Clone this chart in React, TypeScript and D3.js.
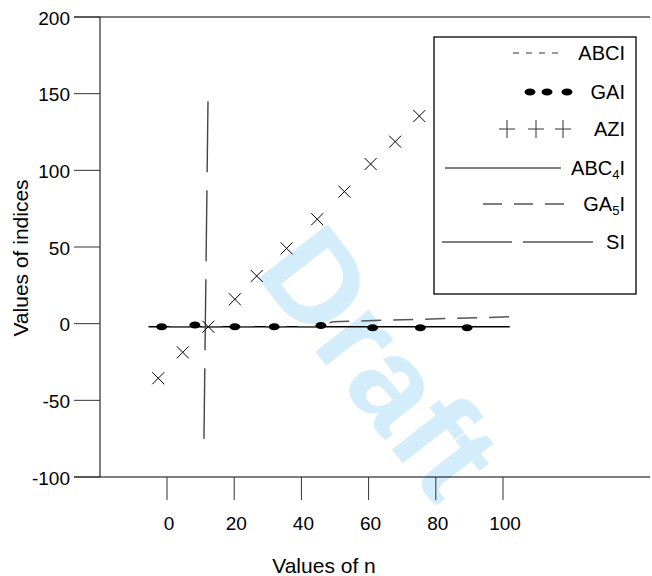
import React from 'react';
import * as d3 from 'd3';

// axis ticks
const xTicks = [0, 20, 40, 60, 80, 100];
const yTicks = [-100, -50, 0, 50, 100, 150, 200];

// rising series drawn with x markers
const aziN = [-2.6, 4.7, 12.3, 20.2, 26.7, 35.6, 44.7, 52.8, 60.6, 67.9, 75.1];
const aziV = [-35.6, -18.7, -2.0, 15.9, 31.1, 49.1, 68.1, 86.1, 104.1, 118.7, 135.4];

// GAI dots
const gaiN = [-1.6, 8.3, 20.2, 31.9, 45.8, 61.2, 75.4, 89.3];
const gaiV = [-2.0, -0.9, -2.0, -2.0, -1.2, -2.6, -2.6, -2.6];

// ABC4I solid line
const abc4N = [-5.5, 102];
const abc4V = [-2, -2];

// GA5I dashed line
const ga5N = [0.9, 44.9, 49.4, 103];
const ga5V = [-2, -2, 1.3, 4.5];

// SI long-dash line
const siN = [12.2, 11.0];
const siV = [145, -75];

const FONT = 'Liberation Sans, Arial, sans-serif';

export default function App() {
  const width = 652;
  const height = 576;

  const x = d3.scaleLinear().domain([0, 100]).range([167, 503]);
  const y = d3.scaleLinear().domain([-100, 200]).range([477, 17]);
  const axisX = 100;
  const tickLeft = 74;
  const frameRight = 650;

  const line = d3
    .line<[number, number]>()
    .x(d => x(d[0]))
    .y(d => y(d[1]));

  const zip = (a: number[], b: number[]) => a.map((v, i) => [v, b[i]] as [number, number]);

  const azi = zip(aziN, aziV);
  const gai = zip(gaiN, gaiV);

  const cross = (cx: number, cy: number, r: number, key: string | number) => (
    <path
      key={key}
      d={`M${cx - r},${cy - r}L${cx + r},${cy + r}M${cx - r},${cy + r}L${cx + r},${cy - r}`}
      stroke="#000"
      strokeWidth={1}
      fill="none"
    />
  );

  const plus = (cx: number, cy: number, r: number, key: string | number) => (
    <path
      key={key}
      d={`M${cx - r},${cy}L${cx + r},${cy}M${cx},${cy - r - 1}L${cx},${cy + r + 1}`}
      stroke="#333"
      strokeWidth={1}
      fill="none"
    />
  );

  // legend layout
  const lg = { x: 434, y: 37, w: 202, h: 257, textX: 625 };
  const rowY = [53, 92, 129, 168, 204, 242];

  return (
    <svg
      width={width}
      height={height}
      style={{ position: 'absolute', left: 0, top: 0, background: '#fff' }}
      fontFamily={FONT}
    >
      {/* watermark */}
      <text
        transform="translate(380,362) rotate(52)"
        textAnchor="middle"
        dominantBaseline="central"
        fontSize={128}
        fontWeight="bold"
        fill="#d3edfb"
      >
        Draft
      </text>

      {/* frame lines at top and bottom */}
      <line x1={tickLeft} x2={frameRight} y1={y(200)} y2={y(200)} stroke="#000" strokeWidth={1.2} />
      <line x1={tickLeft} x2={frameRight} y1={y(-100)} y2={y(-100)} stroke="#000" strokeWidth={1.2} />

      {/* y axis */}
      <line x1={axisX} x2={axisX} y1={y(200)} y2={y(-100)} stroke="#000" strokeWidth={1} />
      {yTicks.map(t => (
        <g key={t}>
          <line x1={tickLeft} x2={axisX} y1={y(t)} y2={y(t)} stroke="#333" strokeWidth={1} />
          <text
            x={70}
            y={y(t) + 1}
            textAnchor="end"
            dominantBaseline="central"
            fontSize={19}
            fill="#000"
          >
            {t}
          </text>
        </g>
      ))}
      <text
        transform={`translate(20,${(y(200) + y(-100)) / 2 + 11}) rotate(-90)`}
        textAnchor="middle"
        dominantBaseline="central"
        fontSize={21}
      >
        Values of indices
      </text>

      {/* x ticks */}
      {xTicks.map(t => (
        <g key={t}>
          <line x1={x(t)} x2={x(t)} y1={y(-100)} y2={500} stroke="#333" strokeWidth={1} />
          <text x={x(t) + 2} y={523} textAnchor="middle" dominantBaseline="central" fontSize={19}>
            {t}
          </text>
        </g>
      ))}
      <text x={324} y={565} textAnchor="middle" dominantBaseline="central" fontSize={21}>
        Values of n
      </text>

      {/* series */}
      <path d={line(zip(abc4N, abc4V)) || ''} stroke="#000" strokeWidth={1.3} fill="none" />
      <path
        d={line(zip(ga5N, ga5V)) || ''}
        stroke="#555"
        strokeWidth={1.5}
        strokeDasharray="20,12"
        fill="none"
      />
      <path
        d={line(zip(siN, siV)) || ''}
        stroke="#444"
        strokeWidth={1.4}
        strokeDasharray="71,18"
        fill="none"
      />
      {gai.map((d, i) => (
        <ellipse key={i} cx={x(d[0])} cy={y(d[1])} rx={5.5} ry={3.5} fill="#000" />
      ))}
      {azi.map((d, i) => cross(x(d[0]), y(d[1]), 6, i))}

      {/* legend */}
      <rect x={lg.x} y={lg.y} width={lg.w} height={lg.h} fill="#fff" stroke="#000" strokeWidth={1.3} />
      <g fontSize={20}>
        <line x1={513} x2={559} y1={rowY[0]} y2={rowY[0]} stroke="#333" strokeDasharray="6,7" />
        <text x={lg.textX} y={rowY[0]} textAnchor="end" dominantBaseline="central">ABCI</text>

        {[530, 547, 567].map(cx => (
          <ellipse key={cx} cx={cx} cy={rowY[1]} rx={5.5} ry={3.5} fill="#000" />
        ))}
        <text x={lg.textX} y={rowY[1]} textAnchor="end" dominantBaseline="central">GAI</text>

        {[507, 536, 563].map(cx => plus(cx, rowY[2], 8, cx))}
        <text x={lg.textX} y={rowY[2]} textAnchor="end" dominantBaseline="central">AZI</text>

        <line x1={445} x2={561} y1={rowY[3]} y2={rowY[3]} stroke="#000" strokeWidth={1} />
        <text x={lg.textX} y={rowY[3]} textAnchor="end" dominantBaseline="central">
          ABC<tspan fontSize={13} dy={6}>4</tspan><tspan dy={-6}>I</tspan>
        </text>

        <line x1={483} x2={564} y1={rowY[4]} y2={rowY[4]} stroke="#555" strokeWidth={1.4} strokeDasharray="19,12" />
        <text x={lg.textX} y={rowY[4]} textAnchor="end" dominantBaseline="central">
          GA<tspan fontSize={13} dy={6}>5</tspan><tspan dy={-6}>I</tspan>
        </text>

        <line x1={442} x2={594} y1={rowY[5]} y2={rowY[5]} stroke="#000" strokeWidth={1} strokeDasharray="70,11" />
        <text x={lg.textX} y={rowY[5]} textAnchor="end" dominantBaseline="central">SI</text>
      </g>
    </svg>
  );
}
